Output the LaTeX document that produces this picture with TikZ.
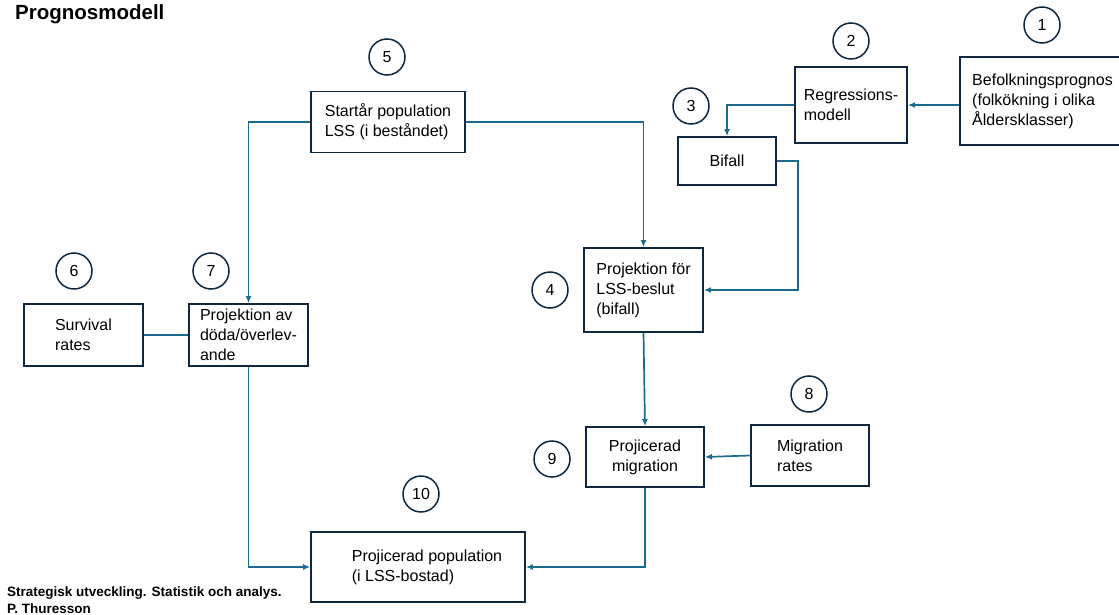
\documentclass[tikz,border=0pt]{standalone}
\usepackage{fontspec}
\setmainfont{Liberation Sans}
\usetikzlibrary{arrows.meta}
\definecolor{boxc}{HTML}{0E2841}
\definecolor{arrc}{HTML}{1A6B8D}
\begin{document}
\begin{tikzpicture}[x=1pt,y=-1pt,
 box/.style={draw=boxc,line width=1.8pt,rectangle,align=left,inner sep=0pt,font=\fontsize{16}{20}\selectfont},
 num/.style={draw=boxc,line width=1.5pt,circle,minimum size=36pt,inner sep=0pt,font=\fontsize{16}{20}\selectfont},
 arr/.style={draw=arrc,line width=1.7pt,-{Latex[length=7pt,width=6pt]}},
 ln/.style={draw=arrc,line width=1.7pt},
 bold/.style={inner sep=0pt,anchor=base west}]
\useasboundingbox (0,0) rectangle (1119,615);

% title and footer
\node[bold,font=\fontsize{20.5}{24}\selectfont\bfseries] (title) at (15,20) {Prognosmodell};
\node[bold,font=\fontsize{13.5}{16}\selectfont\bfseries] (foot1) at (7,596) {Strategisk utveckling. Statistik och analys.};
\node[bold,font=\fontsize{13.5}{16}\selectfont\bfseries] (foot2) at (7,613) {P. Thuresson};

% boxes
\node[box,minimum width=154pt,minimum height=61pt] (start) at (388,122) {Startår population\\LSS (i beståndet)};
\node[box,minimum width=112pt,minimum height=76pt] (regr) at (851,105) {Regressions-\\modell};
\node[box,minimum width=185pt,minimum height=88pt] (befolk) at (1052.5,101) {Befolkningsprognos\hspace*{20pt}\\(folkökning i olika\\Åldersklasser)};
\node[box,minimum width=98pt,minimum height=48pt] (bifall) at (727,161) {Bifall};
\node[box,minimum width=119pt,minimum height=84pt] (projfor) at (643.5,290) {Projektion för\\LSS-beslut\\(bifall)};
\node[box,minimum width=119pt,minimum height=62pt] (survival) at (83.5,335) {Survival\\rates};
\node[box,minimum width=119pt,minimum height=62pt] (projav) at (248.5,335) {Projektion av\\döda/överlev-\\ande};
\node[box,minimum width=118pt,minimum height=60pt,align=center] (projmig) at (645,457) {Projicerad\\migration};
\node[box,minimum width=118pt,minimum height=61pt] (migrates) at (810,455.5) {Migration\\rates};
\node[box,minimum width=214pt,minimum height=70pt] (projpop) at (418,567) {\hspace*{18pt}Projicerad population\\\hspace*{18pt}(i LSS-bostad)};

% number circles
\node[num] (c1) at (1042,25) {1};
\node[num] (c2) at (851,41) {2};
\node[num] (c3) at (691,106) {3};
\node[num] (c4) at (550,290) {4};
\node[num] (c5) at (387,57) {5};
\node[num] (c6) at (74,271) {6};
\node[num] (c7) at (211,271) {7};
\node[num] (c8) at (809,394) {8};
\node[num] (c9) at (552,459) {9};
\node[num] (c10) at (421,494) {10};

% connectors
\draw[arr] (befolk.west |- regr.east) -- (regr.east);
\draw[arr] (regr.west) -| (bifall.north);
\draw[arr] (bifall.east) -- ++(21,0) |- (projfor.east);
\draw[arr] (start.east) -| (projfor.north);
\draw[arr] (start.west) -| (projav.north);
\draw[ln] (survival.east) -- (projav.west);
\draw[arr] (projfor.south) -- (projmig.north);
\draw[arr] (migrates.west) -- (projmig.east);
\draw[arr] (projav.south) |- (projpop.west);
\draw[arr] (projmig.south) |- (projpop.east);
\end{tikzpicture}
\end{document}
